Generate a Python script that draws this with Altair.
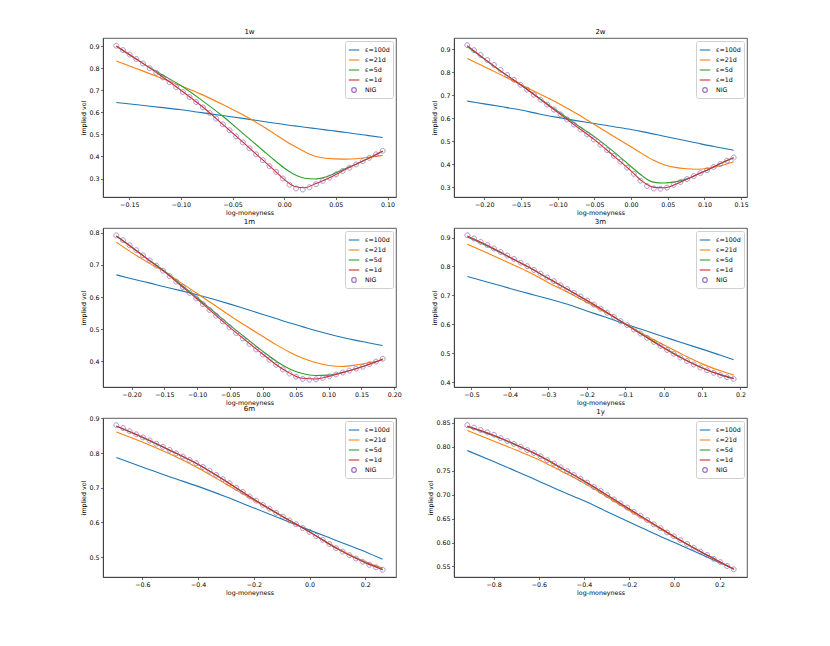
import altair as alt
import numpy as np
import pandas as pd

FONT = "DejaVu Sans"
SERIES = ["ε=100d", "ε=21d", "ε=5d", "ε=1d", "NIG"]
COLORS = ["#1f77b4", "#ff7f0e", "#2ca02c", "#d62728", "#9467bd"]
RING = "M0.44,0A0.44,0.44,0,1,1,-0.44,0A0.44,0.44,0,1,1,0.44,0Z"
SHAPES = ["stroke", "stroke", "stroke", "stroke", RING]

TENORS = ["1w", "2w", "1m", "3m", "6m", "1y"]

# ---------------- 1w ----------------
X_1W = [-0.1625, -0.14, -0.12, -0.10, -0.08, -0.06, -0.04, -0.02, -0.01, 0.0,
        0.01, 0.02, 0.03, 0.04, 0.05, 0.06, 0.07, 0.08, 0.0953]
E100_1W = [0.645, 0.634, 0.623, 0.612, 0.599, 0.586, 0.573, 0.559, 0.552, 0.545,
           0.539, 0.533, 0.527, 0.521, 0.515, 0.509, 0.502, 0.496, 0.486]
E21_1W = [0.834, 0.794, 0.758, 0.721, 0.682, 0.637, 0.589, 0.535, 0.505, 0.474,
          0.446, 0.421, 0.401, 0.392, 0.389, 0.388, 0.390, 0.395, 0.405]
E5_1W = [0.900, 0.832, 0.776, 0.722, 0.656, 0.585, 0.505, 0.425, 0.385, 0.348,
         0.318, 0.301, 0.298, 0.307, 0.326, 0.347, 0.366, 0.388, 0.424]
E1_1W = [0.902, 0.833, 0.769, 0.701, 0.629, 0.548, 0.465, 0.381, 0.339, 0.296,
         0.264, 0.258, 0.276, 0.295, 0.318, 0.343, 0.366, 0.388, 0.425]
NIG_1W = [0.903, 0.883, 0.863, 0.843, 0.822, 0.801, 0.780, 0.759, 0.737, 0.715,
          0.693, 0.670, 0.647, 0.623, 0.598, 0.572, 0.546, 0.519, 0.491, 0.464,
          0.437, 0.410, 0.383, 0.356, 0.330, 0.300, 0.272, 0.255, 0.250, 0.260,
          0.274, 0.289, 0.304, 0.319, 0.334, 0.349, 0.364, 0.379, 0.394, 0.410,
          0.426]

# ---------------- 2w ----------------
X_2W = [-0.2231, -0.20, -0.175, -0.15, -0.125, -0.10, -0.075, -0.05, -0.025, 0.0,
        0.015, 0.03, 0.045, 0.06, 0.075, 0.09, 0.105, 0.12, 0.1398]
E100_2W = [0.675, 0.663, 0.650, 0.636, 0.619, 0.604, 0.590, 0.577, 0.564, 0.551,
           0.542, 0.532, 0.522, 0.512, 0.502, 0.492, 0.482, 0.473, 0.461]
E21_2W = [0.861, 0.825, 0.786, 0.746, 0.707, 0.667, 0.622, 0.573, 0.524, 0.476,
          0.446, 0.418, 0.398, 0.386, 0.380, 0.378, 0.382, 0.392, 0.411]
E5_2W = [0.912, 0.858, 0.800, 0.746, 0.688, 0.631, 0.574, 0.520, 0.458, 0.390,
         0.350, 0.322, 0.318, 0.323, 0.335, 0.355, 0.376, 0.400, 0.428]
E1_2W = [0.916, 0.860, 0.800, 0.745, 0.686, 0.626, 0.566, 0.507, 0.440, 0.371,
         0.326, 0.300, 0.297, 0.311, 0.333, 0.355, 0.376, 0.401, 0.428]
NIG_2W = [0.919, 0.897, 0.876, 0.854, 0.833, 0.811, 0.789, 0.768, 0.746, 0.725,
          0.703, 0.681, 0.660, 0.638, 0.617, 0.595, 0.573, 0.551, 0.530, 0.508,
          0.485, 0.461, 0.436, 0.411, 0.385, 0.358, 0.328, 0.305, 0.294, 0.293,
          0.298, 0.310, 0.322, 0.335, 0.348, 0.361, 0.374, 0.388, 0.401, 0.415,
          0.429]

# ---------------- 1m ----------------
X_1M = [-0.2231, -0.20, -0.175, -0.15, -0.125, -0.10, -0.075, -0.05, -0.025, 0.0,
        0.02, 0.04, 0.06, 0.08, 0.10, 0.12, 0.14, 0.16, 0.1823]
E100_1M = [0.669, 0.657, 0.645, 0.632, 0.620, 0.607, 0.593, 0.578, 0.562, 0.546,
           0.533, 0.520, 0.508, 0.496, 0.485, 0.475, 0.466, 0.458, 0.449]
E21_1M = [0.771, 0.739, 0.708, 0.679, 0.645, 0.611, 0.577, 0.542, 0.509, 0.477,
          0.452, 0.429, 0.410, 0.396, 0.387, 0.384, 0.388, 0.395, 0.404]
E5_1M = [0.790, 0.756, 0.718, 0.681, 0.639, 0.598, 0.555, 0.512, 0.471, 0.431,
         0.401, 0.377, 0.362, 0.356, 0.357, 0.365, 0.376, 0.389, 0.407]
E1_1M = [0.790, 0.756, 0.717, 0.679, 0.636, 0.594, 0.549, 0.505, 0.463, 0.422,
         0.390, 0.364, 0.347, 0.345, 0.353, 0.364, 0.376, 0.389, 0.407]
NIG_1M = [0.792, 0.777, 0.761, 0.746, 0.730, 0.714, 0.698, 0.682, 0.665, 0.648,
          0.631, 0.613, 0.596, 0.578, 0.560, 0.542, 0.524, 0.506, 0.488, 0.471,
          0.454, 0.437, 0.421, 0.405, 0.389, 0.375, 0.362, 0.352, 0.345, 0.343,
          0.344, 0.348, 0.353, 0.359, 0.365, 0.371, 0.377, 0.383, 0.391, 0.399,
          0.408]

# ---------------- 3m ----------------
X_3M = [-0.5108, -0.45, -0.40, -0.35, -0.30, -0.25, -0.20, -0.15, -0.10, -0.05,
        0.0, 0.05, 0.10, 0.15, 0.1823]
E100_3M = [0.765, 0.743, 0.724, 0.706, 0.688, 0.669, 0.646, 0.624, 0.601, 0.579,
           0.557, 0.535, 0.514, 0.492, 0.477]
E21_3M = [0.877, 0.841, 0.811, 0.780, 0.744, 0.711, 0.676, 0.640, 0.602, 0.564,
          0.529, 0.495, 0.463, 0.438, 0.424]
E5_3M = [0.902, 0.865, 0.831, 0.796, 0.758, 0.720, 0.682, 0.642, 0.601, 0.560,
         0.520, 0.482, 0.450, 0.425, 0.413]
E1_3M = [0.905, 0.867, 0.832, 0.797, 0.759, 0.721, 0.683, 0.643, 0.601, 0.559,
         0.518, 0.481, 0.449, 0.424, 0.412]
NIG_3M = [0.908, 0.897, 0.885, 0.874, 0.862, 0.850, 0.838, 0.826, 0.813, 0.801,
          0.788, 0.775, 0.762, 0.749, 0.735, 0.722, 0.709, 0.696, 0.682, 0.668,
          0.654, 0.640, 0.626, 0.611, 0.597, 0.582, 0.568, 0.553, 0.539, 0.525,
          0.511, 0.498, 0.485, 0.473, 0.461, 0.450, 0.441, 0.432, 0.424, 0.417,
          0.411]

# ---------------- 6m ----------------
X_6M = [-0.6931, -0.6, -0.5, -0.4, -0.3, -0.2, -0.1, 0.0, 0.1, 0.2, 0.2624]
E100_6M = [0.787, 0.760, 0.731, 0.704, 0.674, 0.642, 0.610, 0.578, 0.547, 0.516, 0.494]
E21_6M = [0.861, 0.832, 0.797, 0.757, 0.711, 0.664, 0.618, 0.573, 0.526, 0.487, 0.469]
E5_6M = [0.877, 0.845, 0.807, 0.767, 0.719, 0.667, 0.619, 0.573, 0.524, 0.485, 0.465]
E1_6M = [0.878, 0.846, 0.808, 0.768, 0.719, 0.667, 0.619, 0.573, 0.524, 0.484, 0.464]
NIG_6M = [0.880, 0.872, 0.863, 0.854, 0.845, 0.836, 0.827, 0.818, 0.809, 0.799,
          0.790, 0.780, 0.771, 0.760, 0.749, 0.737, 0.725, 0.713, 0.700, 0.688,
          0.675, 0.663, 0.651, 0.640, 0.628, 0.617, 0.606, 0.595, 0.584, 0.573,
          0.561, 0.550, 0.538, 0.526, 0.516, 0.506, 0.496, 0.487, 0.478, 0.471,
          0.464]

# ---------------- 1y ----------------
X_1Y = [-0.9163, -0.8, -0.7, -0.6, -0.5, -0.4, -0.3, -0.2, -0.1, 0.0, 0.1, 0.2, 0.2624]
E100_1Y = [0.792, 0.769, 0.749, 0.728, 0.707, 0.687, 0.665, 0.643, 0.621, 0.600, 0.579, 0.558, 0.545]
E21_1Y = [0.834, 0.812, 0.793, 0.773, 0.749, 0.724, 0.696, 0.667, 0.639, 0.611, 0.585, 0.560, 0.545]
E5_1Y = [0.842, 0.823, 0.803, 0.781, 0.755, 0.728, 0.699, 0.670, 0.641, 0.612, 0.585, 0.560, 0.544]
E1_1Y = [0.843, 0.824, 0.804, 0.782, 0.756, 0.729, 0.700, 0.670, 0.641, 0.612, 0.585, 0.560, 0.544]
NIG_1Y = [0.845, 0.840, 0.835, 0.830, 0.825, 0.818, 0.812, 0.806, 0.800, 0.793,
          0.787, 0.780, 0.772, 0.765, 0.757, 0.749, 0.741, 0.733, 0.725, 0.716,
          0.708, 0.699, 0.690, 0.682, 0.673, 0.664, 0.656, 0.647, 0.638, 0.630,
          0.621, 0.613, 0.605, 0.597, 0.589, 0.581, 0.574, 0.566, 0.559, 0.551,
          0.544]

# axis limits and ticks
XDOMS = [[-0.1754, 0.1082], [-0.2412, 0.1580], [-0.2434, 0.2026],
         [-0.5455, 0.2170], [-0.7409, 0.3102], [-0.9752, 0.3213]]
YDOMS = [[0.216, 0.938], [0.257, 0.950], [0.320, 0.815],
         [0.383, 0.933], [0.443, 0.901], [0.528, 0.860]]
XTICKS = [[-0.15, -0.10, -0.05, 0.0, 0.05, 0.10],
          [-0.20, -0.15, -0.10, -0.05, 0.0, 0.05, 0.10, 0.15],
          [-0.20, -0.15, -0.10, -0.05, 0.0, 0.05, 0.10, 0.15, 0.20],
          [-0.5, -0.4, -0.3, -0.2, -0.1, 0.0, 0.1, 0.2],
          [-0.6, -0.4, -0.2, 0.0, 0.2],
          [-0.8, -0.6, -0.4, -0.2, 0.0, 0.2]]
YTICKS = [[0.3, 0.4, 0.5, 0.6, 0.7, 0.8, 0.9],
          [0.3, 0.4, 0.5, 0.6, 0.7, 0.8, 0.9],
          [0.4, 0.5, 0.6, 0.7, 0.8],
          [0.4, 0.5, 0.6, 0.7, 0.8, 0.9],
          [0.5, 0.6, 0.7, 0.8, 0.9],
          [0.55, 0.60, 0.65, 0.70, 0.75, 0.80, 0.85]]
XFMT = [".2f", ".2f", ".2f", ".1f", ".1f", ".1f"]
YFMT = [".1f", ".1f", ".1f", ".1f", ".1f", ".2f"]

XS = [X_1W, X_2W, X_1M, X_3M, X_6M, X_1Y]
LINES = [[E100_1W, E21_1W, E5_1W, E1_1W],
         [E100_2W, E21_2W, E5_2W, E1_2W],
         [E100_1M, E21_1M, E5_1M, E1_1M],
         [E100_3M, E21_3M, E5_3M, E1_3M],
         [E100_6M, E21_6M, E5_6M, E1_6M],
         [E100_1Y, E21_1Y, E5_1Y, E1_1Y]]
NIGS = [NIG_1W, NIG_2W, NIG_1M, NIG_3M, NIG_6M, NIG_1Y]

PW, PH = 293, 159


def lab(fmt):
    return "replace(format(datum.value, '%s'), '-', '\u2212')" % fmt


def make_panel(i):
    xs = alt.Scale(domain=XDOMS[i], nice=False, zero=False)
    ys = alt.Scale(domain=YDOMS[i], nice=False, zero=False)
    xax = alt.Axis(values=XTICKS[i], labelExpr=lab(XFMT[i]), title="log-moneyness",
                   titleColor="#000000", labelColor="#000000")
    yax = alt.Axis(values=YTICKS[i], labelExpr=lab(YFMT[i]), title="implied vol",
                   titleColor="#000000", labelColor="#000000")
    leg = alt.Legend(
        title=None, orient="top-right", offset=3, padding=3,
        labelFontSize=6.3, labelFont=FONT, labelColor="#000000",
        strokeColor="#d0d0d0", fillColor="white", cornerRadius=2,
        rowPadding=0, symbolSize=110, symbolStrokeWidth=1.2,
        labelOffset=5, labelLimit=80,
    )
    color = alt.Color("series:N", scale=alt.Scale(domain=SERIES, range=COLORS), legend=leg)
    shape = alt.Shape("series:N", scale=alt.Scale(domain=SERIES, range=SHAPES), legend=leg)

    xg = XS[i]
    layers = []
    for name, vals in zip(SERIES[:4], LINES[i]):
        df = pd.DataFrame({"x": xg, "y": vals, "series": name})
        layers.append(
            alt.Chart(df).mark_line(strokeWidth=1.1, interpolate="monotone").encode(
                x=alt.X("x:Q", scale=xs, axis=xax),
                y=alt.Y("y:Q", scale=ys, axis=yax),
                color=color)
        )
    nig_x = np.linspace(xg[0], xg[-1], len(NIGS[i]))
    nig_df = pd.DataFrame({"x": nig_x, "y": NIGS[i], "series": "NIG"})
    layers.append(
        alt.Chart(nig_df).mark_point(filled=False, strokeWidth=0.8, opacity=0.9, size=125).encode(
            x=alt.X("x:Q", scale=xs, axis=xax),
            y=alt.Y("y:Q", scale=ys, axis=yax),
            color=color, shape=shape)
    )
    return alt.layer(*layers).properties(
        width=PW, height=PH,
        title=alt.TitleParams(TENORS[i], fontSize=7, fontWeight="normal", offset=3,
                              font=FONT, color="#000000"),
    )


chart = alt.concat(
    *[make_panel(i) for i in range(6)],
    columns=2,
    spacing={"row": 31, "column": 58},
).properties(
    bounds="flush",
    padding={"left": 72, "top": 19, "right": 5, "bottom": 5},
).resolve_scale(
    color="independent", shape="independent"
).configure(
    font=FONT, background="white"
).configure_view(
    stroke="#333333", strokeWidth=0.8
).configure_axis(
    domainColor="#333333", domainWidth=0.8, tickColor="#333333", tickSize=2.5,
    tickWidth=0.7, labelFontSize=6.3, labelColor="#000000", labelFont=FONT,
    titleFont=FONT, titleFontSize=6.3, titleFontWeight="normal", titleColor="#000000",
    grid=False, labelPadding=1.5, titlePadding=2, labelFlush=False, labelOverlap=False,
)

chart.save("out.html", embed_options={"renderer": "svg", "actions": False})
